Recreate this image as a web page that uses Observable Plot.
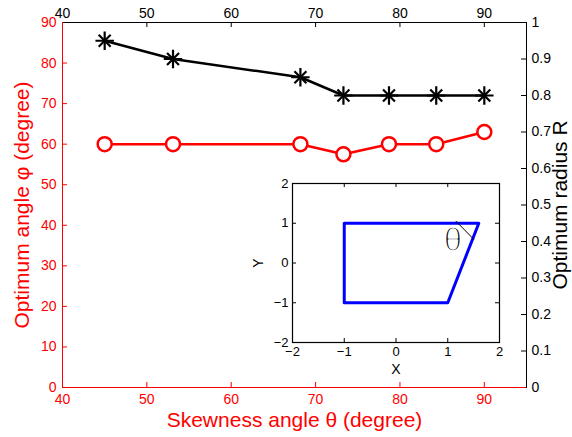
<!DOCTYPE html>
<html><head><meta charset="utf-8">
<script src="https://cdn.jsdelivr.net/npm/d3@7"></script>
<script src="https://cdn.jsdelivr.net/npm/@observablehq/plot@0.6"></script>
<style>
body{margin:0;background:#fff}
#wrap{position:relative;width:572px;height:437px;font-family:"Liberation Sans",Arial,sans-serif}
#wrap svg{position:absolute}
</style>
</head><body><div id="wrap"></div><script>
const theta = [45, 53.1, 68.2, 73.3, 78.7, 84.3, 90];
const phi = [60, 60, 60, 57.5, 60, 60, 63];
const radius = [0.95, 0.9, 0.85, 0.8, 0.8, 0.8, 0.8];
const xTicks = [40, 50, 60, 70, 80, 90];
const phiTicks = [0, 10, 20, 30, 40, 50, 60, 70, 80, 90];
const rTicks = [0, 0.1, 0.2, 0.3, 0.4, 0.5, 0.6, 0.7, 0.8, 0.9, 1];
const shapeX = [-1, 1.6, 1, -1, -1];
const shapeY = [1, 1, -1, -1, 1];
const angleMarkX = [1.16, 1.5];
const angleMarkY = [1.05, 0.6];
const thetaLabel = {x: 1.1, y: 0.58, text: "θ"};
const insetTicks = [-2, -1, 0, 1, 2];

const rows = theta.map((t, i) => ({theta: t, phi: phi[i], R: radius[i]}));
const font = '"Liberation Sans", Arial, sans-serif';
const wrap = document.getElementById("wrap");

const main = Plot.plot({
  width: 572, height: 437,
  marginLeft: 62, marginRight: 46, marginTop: 22, marginBottom: 50,
  x: {domain: [40, 95]},
  y: {domain: [0, 90]},
  style: {fontFamily: font, fontSize: "14px", background: "white", overflow: "visible"},
  marks: [
    Plot.frame({stroke: "black"}),
    Plot.ruleX([40], {stroke: "red"}),
    Plot.ruleY([0], {stroke: "red"}),
    Plot.axisX(xTicks, {anchor: "bottom", color: "red", tickSize: 0, tickPadding: 7, label: null, fontSize: 14}),
    Plot.tickX(xTicks.slice(1), {x: d => d, stroke: "red", insetTop: 360}),
    Plot.axisX(xTicks, {anchor: "top", color: "black", tickSize: 0, tickPadding: 5, label: null, fontSize: 14}),
    Plot.tickX(xTicks.slice(1), {x: d => d, stroke: "black", insetBottom: 360}),
    Plot.axisY(phiTicks, {anchor: "left", color: "red", tickSize: 0, tickPadding: 6, label: null, fontSize: 14}),
    Plot.tickY(phiTicks.slice(1, -1), {y: d => d, stroke: "red", insetRight: 459}),
    Plot.axisY(rTicks.map(r => r * 90), {anchor: "right", color: "black", tickSize: 0, tickPadding: 5, label: null, fontSize: 14, tickFormat: d => String(+(d / 90).toFixed(1))}),
    Plot.tickY(rTicks.slice(1, -1).map(r => r * 90), {y: d => d, stroke: "black", insetLeft: 459}),
    Plot.text(["Skewness angle θ (degree)"], {frameAnchor: "bottom", dy: 33, fill: "red", fontSize: 21, lineAnchor: "middle", textAnchor: "middle"}),
    Plot.text(["Optimum angle φ (degree)"], {frameAnchor: "left", dx: -40, rotate: -90, fill: "red", fontSize: 21, lineAnchor: "middle", textAnchor: "middle"}),
    Plot.text(["Optimum radius R"], {frameAnchor: "right", dx: 34, rotate: -90, fill: "black", fontSize: 21, lineAnchor: "middle", textAnchor: "middle"}),
    Plot.line(rows, {x: "theta", y: "phi", stroke: "red", strokeWidth: 2.5}),
    Plot.dot(rows, {x: "theta", y: "phi", r: 7, stroke: "red", strokeWidth: 2.5, fill: "white"}),
    Plot.line(rows, {x: "theta", y: d => d.R * 90, stroke: "black", strokeWidth: 2.5}),
    Plot.dot(rows, {x: "theta", y: d => d.R * 90, symbol: "plus", r: 6, stroke: "black", strokeWidth: 2.2}),
    Plot.dot(rows, {x: "theta", y: d => d.R * 90, symbol: "times", r: 5.5, stroke: "black", strokeWidth: 2.2})
  ]
});
main.style.left = "0px"; main.style.top = "0px";
wrap.appendChild(main);

const inset = Plot.plot({
  width: 250, height: 200,
  marginLeft: 30, marginRight: 13, marginTop: 8, marginBottom: 33,
  x: {domain: [-2, 2]},
  y: {domain: [-2, 2]},
  style: {fontFamily: font, fontSize: "13px", background: "white", overflow: "visible"},
  marks: [
    Plot.frame({stroke: "black", strokeWidth: 1.2}),
    Plot.axisX(insetTicks, {anchor: "bottom", tickSize: 0, tickPadding: 4, label: null, tickFormat: d => String(d).replace("-", "\u2212"), fontSize: 13}),
    Plot.axisY(insetTicks, {anchor: "left", tickSize: 0, tickPadding: 4, label: null, tickFormat: d => String(d).replace("-", "\u2212"), fontSize: 13}),
    Plot.tickX(insetTicks.slice(1, -1), {x: d => d, stroke: "black", insetTop: 155}),
    Plot.tickX(insetTicks.slice(1, -1), {x: d => d, stroke: "black", insetBottom: 155}),
    Plot.tickY(insetTicks.slice(1, -1), {y: d => d, stroke: "black", insetRight: 203}),
    Plot.tickY(insetTicks.slice(1, -1), {y: d => d, stroke: "black", insetLeft: 203}),
    Plot.text(["X"], {frameAnchor: "bottom", dy: 27, fontSize: 14, lineAnchor: "middle", textAnchor: "middle"}),
    Plot.text(["Y"], {frameAnchor: "left", dx: -34, rotate: -90, fontSize: 14, lineAnchor: "middle", textAnchor: "middle"}),
    Plot.line(shapeX.map((x, i) => ({x, y: shapeY[i]})), {x: "x", y: "y", stroke: "blue", strokeWidth: 3}),
    Plot.line(angleMarkX.map((x, i) => ({x, y: angleMarkY[i]})), {x: "x", y: "y", stroke: "black", strokeWidth: 1}),
    Plot.text([thetaLabel], {x: "x", y: "y", text: "text", fontSize: 33, fill: "black", stroke: "white", strokeWidth: 1.6, paintOrder: "normal", lineAnchor: "middle"})
  ]
});
inset.style.left = "262px"; inset.style.top = "175px";
wrap.appendChild(inset);
</script></body></html>
